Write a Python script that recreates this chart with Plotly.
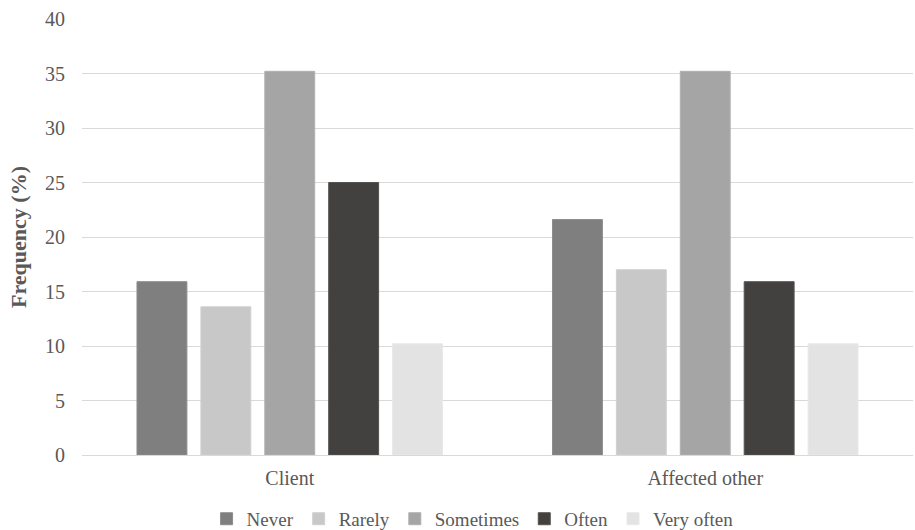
import plotly.graph_objects as go

categories = ["Client", "Affected other"]
series_names = ["Never", "Rarely", "Sometimes", "Often", "Very often"]
never = [15.9, 21.6]
rarely = [13.6, 17.0]
sometimes = [35.2, 35.2]
often = [25.0, 15.9]
very_often = [10.2, 10.2]
y_ticks = [0, 5, 10, 15, 20, 25, 30, 35, 40]

series_values = [never, rarely, sometimes, often, very_often]
colors = ["#7f7f7f", "#c8c8c8", "#a5a5a5", "#43413f", "#e3e3e3"]
line_colors = ["#8c8c8c", "#d0d0d0", "#b0b0b0", "#555350", "#e8e8e8"]

font_family = "Liberation Serif, Times New Roman, serif"

fig = go.Figure()
for name, vals, c, lc in zip(series_names, series_values, colors, line_colors):
    fig.add_trace(go.Bar(
        x=categories, y=vals, name=name,
        marker=dict(color=c, line=dict(color=lc, width=1)),
    ))

fig.update_layout(
    width=915, height=530,
    margin=dict(l=82, r=2, t=19, b=75, autoexpand=False),
    paper_bgcolor="white", plot_bgcolor="white",
    barmode="group", bargap=0.231, bargroupgap=0.219,
    font=dict(family=font_family, size=20, color="#595959"),
    showlegend=True,
    legend=dict(
        orientation="h", x=0.47, xanchor="center",
        yref="container", y=0.021, yanchor="middle",
        font=dict(family=font_family, size=19, color="#595959"),
        itemwidth=30, traceorder="normal",
    ),
    xaxis=dict(
        showgrid=False, showline=True, linecolor="#d9d9d9", linewidth=1,
        ticks="", tickfont=dict(family=font_family, size=20, color="#595959"),
        ticklabelstandoff=5,
    ),
    yaxis=dict(
        range=[0, 40], tickvals=y_ticks, showgrid=True, gridcolor="#d9d9d9",
        gridwidth=1, zeroline=False, showline=False, ticks="",
        tickfont=dict(family=font_family, size=20, color="#595959"),
        ticklabelstandoff=16,
        title=dict(text="<b>Frequency (%)</b>", standoff=12,
                   font=dict(family=font_family, size=22, color="#595959")),
    ),
)

fig.write_html("out.html")
